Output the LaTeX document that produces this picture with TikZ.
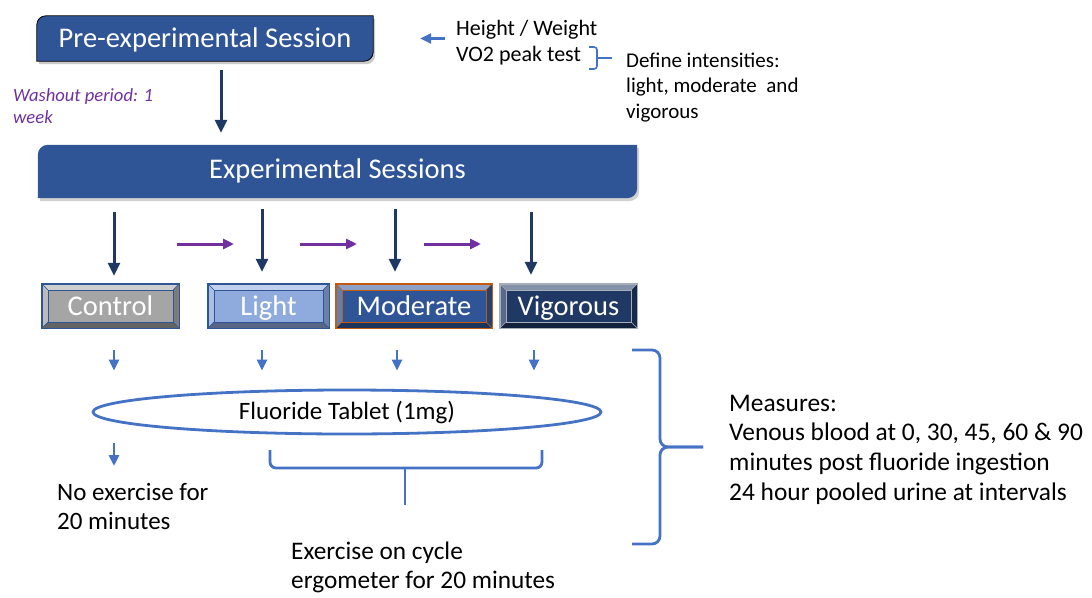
\documentclass[tikz,border=0pt]{standalone}
\usepackage{fontspec}
\setmainfont{Carlito}
\usetikzlibrary{arrows.meta,shapes.geometric,backgrounds}
\definecolor{boxblue}{HTML}{2F5597}
\definecolor{navy}{HTML}{203864}
\definecolor{purp}{HTML}{7030A0}
\definecolor{lblue}{HTML}{4472C4}
\definecolor{lightfill}{HTML}{8FAADC}
\definecolor{grayfill}{HTML}{A5A5A5}
\definecolor{orng}{HTML}{C55A11}
\definecolor{vigfill}{HTML}{203864}
\definecolor{vigborder}{HTML}{A6AEBA}
\tikzset{
  sessbox/.style={rectangle, inner sep=0pt, text=white, font=\fontsize{28.5}{32}\selectfont, text height=21pt, text depth=3pt},
  bevnode/.style={rectangle, inner sep=0pt, text=white, font=\fontsize{28.5}{32}\selectfont, text height=21pt, text depth=3pt},
  txt/.style={inner sep=0pt, align=left, anchor=west, text=black},
  darr/.style={draw=navy, line width=3pt, -{Triangle[width=12pt,length=13pt]}},
  parr/.style={draw=purp, line width=3pt, -{Triangle[width=10pt,length=11pt]}},
  barr/.style={draw=lblue, line width=2.8pt, -{Triangle[width=10pt,length=11pt]}},
  brace/.style={draw=lblue, line width=2.8pt, rounded corners=6pt},
}
\newcommand\bevelbox[8]{%
  \node[bevnode, fill=#6, minimum width=#4, minimum height=#5] (#1) at (#2,#3) {#8};
  \fill[#6!55!white] (#1.north west) -- (#1.north east) -- ([shift={(-6pt,-6pt)}]#1.north east) -- ([shift={(6pt,-6pt)}]#1.north west) -- cycle;
  \fill[#6!75!white] (#1.north west) -- ([shift={(6pt,-6pt)}]#1.north west) -- ([shift={(6pt,6pt)}]#1.south west) -- (#1.south west) -- cycle;
  \fill[#6!60!black] (#1.south west) -- ([shift={(6pt,6pt)}]#1.south west) -- ([shift={(-6pt,6pt)}]#1.south east) -- (#1.south east) -- cycle;
  \fill[#6!75!black] (#1.south east) -- ([shift={(-6pt,6pt)}]#1.south east) -- ([shift={(-6pt,-6pt)}]#1.north east) -- (#1.north east) -- cycle;
  \draw[#7, line width=0.6pt] ([shift={(6pt,-6pt)}]#1.north west) rectangle ([shift={(-6pt,6pt)}]#1.south east);
  \draw[#7, line width=0.6pt] (#1.north west) -- ([shift={(6pt,-6pt)}]#1.north west)
     (#1.north east) -- ([shift={(-6pt,-6pt)}]#1.north east)
     (#1.south west) -- ([shift={(6pt,6pt)}]#1.south west)
     (#1.south east) -- ([shift={(-6pt,6pt)}]#1.south east);
  \draw[#7, line width=1.4pt] (#1.north west) rectangle (#1.south east);
}
\begin{document}
\begin{tikzpicture}[x=1pt,y=-1pt]
\useasboundingbox (0,0) rectangle (1092,597);
% session boxes
\node[sessbox, minimum width=336pt, minimum height=45pt] (pre) at (205,38.5) {Pre-experimental Session};
\node[sessbox, minimum width=599pt, minimum height=53pt, text height=19pt, text depth=5pt] (exp) at (337.5,171.5) {Experimental Sessions};
\begin{scope}[on background layer]
  \fill[black!35, opacity=0.6] ([shift={(2pt,-3pt)}]pre.south west) [rounded corners=9pt] -- ([shift={(2pt,-3pt)}]pre.north west) [sharp corners] -- ([shift={(2pt,-3pt)}]pre.north east) [rounded corners=9pt] -- ([shift={(2pt,-3pt)}]pre.south east) [sharp corners] -- cycle;
  \filldraw[fill=boxblue, draw=black, line width=0.8pt] (pre.south west) [rounded corners=9pt] -- (pre.north west) [sharp corners] -- (pre.north east) [rounded corners=9pt] -- (pre.south east) [sharp corners] -- cycle;
  \fill[black!30, opacity=0.6] ([shift={(2pt,-3pt)}]exp.south west) [rounded corners=10pt] -- ([shift={(2pt,-3pt)}]exp.north west) [sharp corners] -- ([shift={(2pt,-3pt)}]exp.north east) [rounded corners=10pt] -- ([shift={(2pt,-3pt)}]exp.south east) [sharp corners] -- cycle;
  \fill[boxblue] (exp.south west) [rounded corners=10pt] -- (exp.north west) [sharp corners] -- (exp.north east) [rounded corners=10pt] -- (exp.south east) [sharp corners] -- cycle;
\end{scope}
% texts top
\node[txt, text=purp, font=\fontsize{18.6}{22}\selectfont\itshape] (wash) at (13,106) {Washout period: 1\\week};
\node[txt, font=\fontsize{22}{26}\selectfont] (hw) at (456,43) {Height / Weight\\VO2 peak test};
\node[txt, font=\fontsize{21}{25.5}\selectfont] (def) at (626,87.5) {Define intensities:\\light, moderate \ and\\vigorous};
\draw[barr, line width=2.4pt] (hw.west |- pre.east) -- (pre.east) [shorten <=11pt, shorten >=47pt];
\coordinate (sb) at (597,58);
\draw[draw=lblue, line width=1.6pt, rounded corners=3pt] (589,47) -- (597,47) -- (597,69) -- (589,69);
\draw[draw=lblue, line width=1.6pt] (sb) -- (def.west |- sb) [shorten >=14pt];
% pre -> exp
\draw[darr, shorten <=9pt, shorten >=12pt] (pre.south -| 221,0) -- (exp.north -| 221,0);
% bevel boxes
\bevelbox{ctrl}{110.5}{306}{137pt}{44pt}{grayfill}{boxblue}{Control}
\bevelbox{light}{268.5}{306}{121pt}{44pt}{lightfill}{boxblue}{Light}
\bevelbox{mod}{414}{306}{156pt}{44pt}{boxblue}{orng}{Moderate}
\bevelbox{vig}{568.5}{306}{137pt}{44pt}{vigfill}{vigborder}{Vigorous}
% exp -> boxes
\coordinate (c1) at (114,0);
\coordinate (c2) at (262,0);
\coordinate (c3) at (395,0);
\coordinate (c4) at (531,0);
\draw[darr, shorten <=14pt, shorten >=8pt] (exp.south -| c1) -- (ctrl.north -| c1);
\draw[darr, shorten <=11pt, shorten >=12pt] (exp.south -| c2) -- (light.north -| c2);
\draw[darr, shorten <=11pt, shorten >=12pt] (exp.south -| c3) -- (mod.north -| c3);
\draw[darr, shorten <=14pt, shorten >=9pt] (exp.south -| c4) -- (vig.north -| c4);
% purple arrows
\coordinate (p1a) at (177,244); \coordinate (p1b) at (234,244);
\coordinate (p2a) at (300,244); \coordinate (p2b) at (357,244);
\coordinate (p3a) at (424,244); \coordinate (p3b) at (481,244);
\draw[parr] (p1a) -- (p1b);
\draw[parr] (p2a) -- (p2b);
\draw[parr] (p3a) -- (p3b);
% ellipse
\node[ellipse, draw=lblue, line width=2.8pt, minimum width=508pt, minimum height=44pt, inner sep=0pt, font=\fontsize{25}{28}\selectfont] (ell) at (347,412) {Fluoride Tablet (1mg)};
\coordinate (d1) at (114,0);
\coordinate (d2) at (262,0);
\coordinate (d3) at (397,0);
\coordinate (d4) at (534,0);
\draw[barr, shorten <=22pt, shorten >=18pt] (ctrl.south -| d1) -- (ell.north -| d1);
\draw[barr, shorten <=22pt, shorten >=18pt] (light.south -| d2) -- (ell.north -| d2);
\draw[barr, shorten <=22pt, shorten >=18pt] (mod.south -| d3) -- (ell.north -| d3);
\draw[barr, shorten <=22pt, shorten >=18pt] (vig.south -| d4) -- (ell.north -| d4);
% lower texts
\node[txt, font=\fontsize{25}{29}\selectfont] (noex) at (57,506) {No exercise for\\20 minutes};
\node[txt, font=\fontsize{25.3}{29}\selectfont] (cyc) at (291,567) {Exercise on cycle\\ergometer for 20 minutes};
\coordinate (ne) at (114,466);
\draw[barr, shorten <=8pt] (ell.south -| ne) -- (ne);
% lower bracket
\coordinate (bt) at (405,505);
\draw[brace] (270,450) -- (270,468) -- (542,468) -- (542,450);
\draw[draw=lblue, line width=2.8pt] (bt |- 0,468) -- (bt);
% measures
\node[txt, font=\fontsize{25.4}{29.7}\selectfont] (meas) at (729,449.5) {Measures:\\Venous blood at 0, 30, 45, 60 \& 90\\minutes post fluoride ingestion\\24 hour pooled urine at intervals};
\coordinate (mb) at (703,447);
\draw[brace, rounded corners=8pt] (632,350) -- (660,350) -- (660,447) -- (mb);
\draw[brace, rounded corners=8pt] (632,544) -- (660,544) -- (660,447) -- (mb);
\end{tikzpicture}
\end{document}
